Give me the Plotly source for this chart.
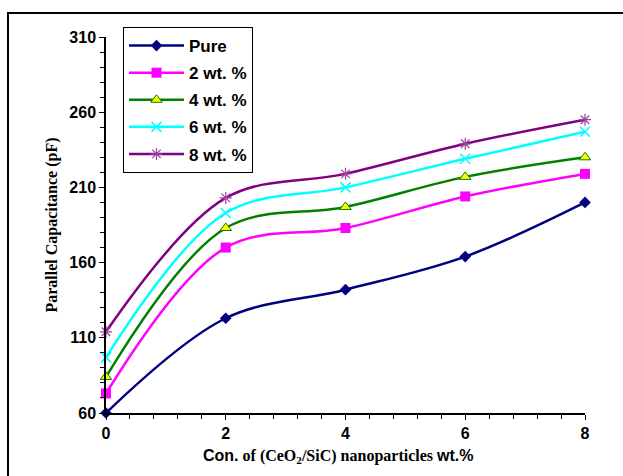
import plotly.graph_objects as go

conc = [0, 2, 4, 6, 8]
pure = [60, 123, 142, 164, 200]
wt2 = [73, 170, 183, 204, 219]
wt4 = [84, 183, 197, 217, 230]
wt6 = [97, 193, 210, 229, 247]
wt8 = [114, 203, 219, 239, 255]
names = ["Pure", "2 wt. %", "4 wt. %", "6 wt. %", "8 wt. %"]

series = [
    (pure, "#000080", dict(symbol="diamond", size=9, color="#000080")),
    (wt2, "#FF00FF", dict(symbol="square", size=10, color="#FF00FF")),
    (wt4, "#008000", dict(symbol="triangle-up", size=10, color="#FFFF00",
                          line=dict(color="#008000", width=1))),
    (wt6, "#00FFFF", dict(symbol="x-thin", size=10, color="#00FFFF",
                          line=dict(color="#00FFFF", width=1.5))),
    (wt8, "#800080", dict(symbol="asterisk", size=10, color="#A040A0",
                          line=dict(color="#A040A0", width=1.2))),
]

fig = go.Figure()
for name, (vals, col, mk) in zip(names, series):
    fig.add_trace(go.Scatter(
        x=conc, y=vals, name="<b>" + name + "</b>", mode="lines+markers",
        legendgroup=name,
        line=dict(color=col, width=2.5, shape="spline", smoothing=1.0),
        marker=mk, cliponaxis=False,
    ))

W, H = 623, 476
L, R, T, B = 106, 38, 37, 63
pw, ph = W - L - R, H - T - B

def px(xp):
    return (xp - L) / pw

def py(yp):
    return (H - B - yp) / ph

fig.add_shape(type="rect", xref="paper", yref="paper",
              x0=px(8), x1=px(640), y0=py(490), y1=py(13),
              line=dict(color="black", width=2), fillcolor="rgba(0,0,0,0)", layer="below")

fig.add_annotation(
    xref="paper", yref="paper", x=px(338), y=py(456), xanchor="center", yanchor="middle",
    showarrow=False,
    text="<b><span style=\"font-family:Liberation Sans\">Con.</span> "
         "of (CeO<sub>2</sub>/SiC) nanoparticles "
         "<span style=\"font-family:Liberation Sans\">wt.%</span></b>",
    font=dict(family="Liberation Serif, Times New Roman", size=16, color="black"),
)

tickfont = dict(family="Liberation Sans, Arial", size=16, color="black")

fig.update_layout(
    width=W, height=H,
    margin=dict(l=L, r=R, t=T, b=B),
    paper_bgcolor="white", plot_bgcolor="white",
    showlegend=True,
    legend=dict(
        x=px(123), y=py(27), xanchor="left", yanchor="top",
        bgcolor="white", bordercolor="black", borderwidth=1,
        font=dict(family="Liberation Sans, Arial", size=17, color="black"),
        tracegroupgap=2, itemwidth=55, traceorder="grouped",
    ),
    xaxis=dict(
        range=[0, 8], dtick=2, tick0=0, showgrid=False, zeroline=False,
        showline=True, linecolor="black", linewidth=1.5,
        ticks="outside", ticklen=5, tickcolor="black", tickwidth=1,
        minor=dict(dtick=0.4, ticks="outside", ticklen=4, tickcolor="black", showgrid=False),
        tickfont=tickfont, tickprefix="<b>", ticksuffix="</b>",
    ),
    yaxis=dict(
        range=[60, 310], dtick=50, tick0=60, showgrid=False, zeroline=False,
        showline=True, linecolor="black", linewidth=1.5,
        ticks="outside", ticklen=5, tickcolor="black", tickwidth=1,
        minor=dict(dtick=10, ticks="outside", ticklen=4, tickcolor="black", showgrid=False),
        tickfont=tickfont, tickprefix="<b>", ticksuffix="</b>",
        title=dict(
            text="<b>Parallel Capacitance (pF)</b>",
            font=dict(family="Liberation Serif, Times New Roman", size=16, color="black"),
            standoff=8,
        ),
    ),
)

fig.write_html("out.html")
